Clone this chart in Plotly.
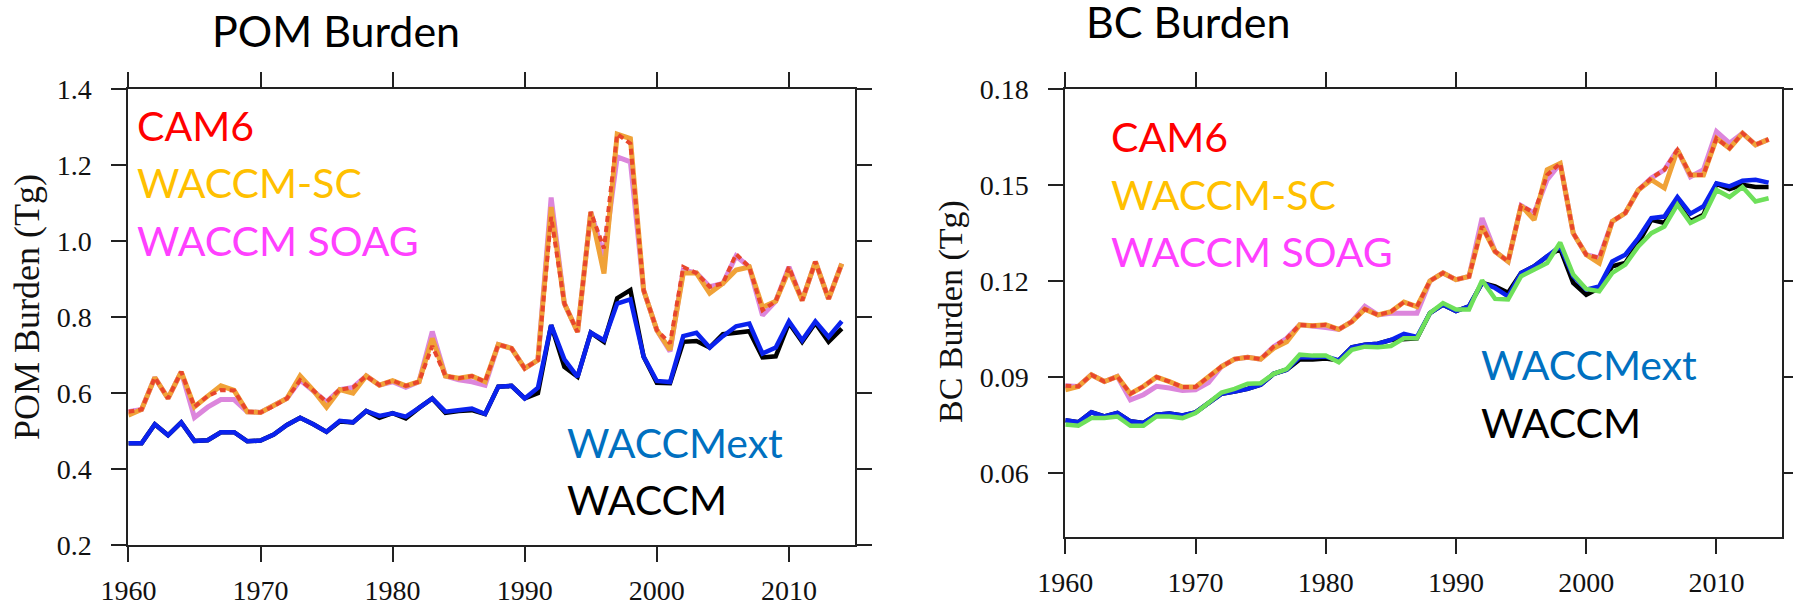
import plotly.graph_objects as go

W, H = 1793, 600
years = list(range(1960, 2015))

# ---------------- POM burden (Tg) ----------------
pom_cam6 = [0.551, 0.557, 0.641, 0.586, 0.656, 0.564, 0.592, 0.608, 0.607, 0.551,
            0.549, 0.566, 0.586, 0.634, 0.607, 0.577, 0.609, 0.615, 0.645, 0.621,
            0.633, 0.619, 0.630, 0.724, 0.645, 0.639, 0.645, 0.630, 0.728, 0.718,
            0.665, 0.687, 1.064, 0.836, 0.761, 1.077, 0.981, 1.282, 1.257, 0.871,
            0.766, 0.731, 0.932, 0.916, 0.880, 0.889, 0.966, 0.932, 0.818, 0.842,
            0.932, 0.844, 0.946, 0.848, 0.941]
pom_sc = [0.542, 0.557, 0.641, 0.586, 0.656, 0.564, 0.592, 0.619, 0.607, 0.551,
          0.549, 0.566, 0.586, 0.645, 0.607, 0.563, 0.609, 0.600, 0.645, 0.621,
          0.633, 0.619, 0.630, 0.744, 0.645, 0.639, 0.645, 0.630, 0.728, 0.718,
          0.665, 0.687, 1.090, 0.836, 0.761, 1.077, 0.915, 1.282, 1.270, 0.871,
          0.766, 0.714, 0.916, 0.916, 0.863, 0.889, 0.924, 0.932, 0.826, 0.842,
          0.924, 0.844, 0.946, 0.848, 0.941]
pom_soag = [0.551, 0.557, 0.641, 0.586, 0.656, 0.536, 0.563, 0.583, 0.583, 0.551,
            0.549, 0.566, 0.586, 0.634, 0.607, 0.577, 0.609, 0.615, 0.645, 0.621,
            0.630, 0.615, 0.630, 0.762, 0.645, 0.635, 0.630, 0.621, 0.728, 0.718,
            0.665, 0.687, 1.115, 0.836, 0.761, 1.077, 0.961, 1.222, 1.209, 0.871,
            0.766, 0.710, 0.924, 0.916, 0.880, 0.889, 0.961, 0.932, 0.805, 0.842,
            0.932, 0.844, 0.946, 0.848, 0.941]
pom_ext = [0.468, 0.468, 0.518, 0.489, 0.523, 0.474, 0.476, 0.497, 0.497, 0.473,
           0.475, 0.491, 0.516, 0.535, 0.518, 0.498, 0.527, 0.523, 0.553, 0.540,
           0.547, 0.538, 0.561, 0.586, 0.551, 0.555, 0.559, 0.545, 0.617, 0.619,
           0.586, 0.614, 0.779, 0.689, 0.643, 0.759, 0.739, 0.836, 0.847, 0.696,
           0.632, 0.629, 0.750, 0.759, 0.720, 0.750, 0.776, 0.783, 0.704, 0.720,
           0.789, 0.739, 0.789, 0.748, 0.789]
pom_waccm = [0.468, 0.468, 0.518, 0.489, 0.523, 0.474, 0.476, 0.497, 0.497, 0.473,
             0.475, 0.491, 0.516, 0.535, 0.518, 0.498, 0.525, 0.523, 0.553, 0.535,
             0.547, 0.533, 0.561, 0.586, 0.548, 0.553, 0.555, 0.545, 0.617, 0.619,
             0.586, 0.600, 0.779, 0.669, 0.643, 0.759, 0.735, 0.850, 0.871, 0.696,
             0.627, 0.626, 0.735, 0.737, 0.720, 0.755, 0.759, 0.763, 0.694, 0.697,
             0.785, 0.735, 0.785, 0.735, 0.770]

# ---------------- BC burden (Tg) ----------------
bc_cam6 = [0.0873, 0.0871, 0.0907, 0.0886, 0.0902, 0.0848, 0.0871, 0.0900, 0.0886, 0.0869,
           0.0869, 0.0902, 0.0933, 0.0956, 0.0962, 0.0956, 0.0995, 0.1021, 0.1063, 0.1060,
           0.1063, 0.1049, 0.1073, 0.1112, 0.1094, 0.1104, 0.1134, 0.1120, 0.1200, 0.1225,
           0.1204, 0.1214, 0.1370, 0.1292, 0.1261, 0.1435, 0.1412, 0.1531, 0.1567, 0.1349,
           0.1282, 0.1272, 0.1386, 0.1412, 0.1484, 0.1521, 0.1547, 0.1609, 0.1531, 0.1531,
           0.1645, 0.1614, 0.1661, 0.1625, 0.1642]
bc_sc = [0.0860, 0.0871, 0.0907, 0.0886, 0.0902, 0.0848, 0.0871, 0.0900, 0.0886, 0.0869,
         0.0869, 0.0902, 0.0933, 0.0956, 0.0962, 0.0956, 0.0990, 0.1010, 0.1063, 0.1060,
         0.1063, 0.1049, 0.1073, 0.1112, 0.1094, 0.1104, 0.1134, 0.1120, 0.1200, 0.1225,
         0.1204, 0.1214, 0.1370, 0.1292, 0.1261, 0.1435, 0.1391, 0.1547, 0.1567, 0.1349,
         0.1282, 0.1256, 0.1386, 0.1412, 0.1484, 0.1516, 0.1490, 0.1609, 0.1531, 0.1531,
         0.1645, 0.1614, 0.1661, 0.1625, 0.1642]
bc_soag = [0.0873, 0.0871, 0.0907, 0.0886, 0.0902, 0.0829, 0.0845, 0.0871, 0.0866, 0.0858,
           0.0860, 0.0883, 0.0933, 0.0956, 0.0962, 0.0956, 0.0995, 0.1021, 0.1063, 0.1060,
           0.1055, 0.1049, 0.1073, 0.1121, 0.1094, 0.1099, 0.1099, 0.1099, 0.1200, 0.1225,
           0.1204, 0.1214, 0.1396, 0.1292, 0.1261, 0.1435, 0.1412, 0.1516, 0.1567, 0.1349,
           0.1282, 0.1272, 0.1386, 0.1412, 0.1484, 0.1521, 0.1547, 0.1609, 0.1525, 0.1547,
           0.1666, 0.1630, 0.1661, 0.1625, 0.1642]
bc_ext = [0.0765, 0.0759, 0.0790, 0.0777, 0.0788, 0.0762, 0.0757, 0.0783, 0.0786, 0.0780,
          0.0790, 0.0819, 0.0848, 0.0855, 0.0863, 0.0876, 0.0910, 0.0923, 0.0962, 0.0962,
          0.0964, 0.0952, 0.0993, 0.1001, 0.1004, 0.1016, 0.1035, 0.1025, 0.1100, 0.1126,
          0.1106, 0.1121, 0.1194, 0.1178, 0.1152, 0.1225, 0.1246, 0.1277, 0.1308, 0.1215,
          0.1173, 0.1183, 0.1261, 0.1282, 0.1334, 0.1396, 0.1401, 0.1462, 0.1410, 0.1433,
          0.1505, 0.1495, 0.1513, 0.1516, 0.1507]
bc_waccm = [0.0765, 0.0759, 0.0790, 0.0777, 0.0788, 0.0762, 0.0757, 0.0783, 0.0786, 0.0780,
            0.0790, 0.0819, 0.0848, 0.0855, 0.0863, 0.0876, 0.0910, 0.0923, 0.0955, 0.0955,
            0.0958, 0.0952, 0.0993, 0.1001, 0.1004, 0.1016, 0.1020, 0.1021, 0.1100, 0.1126,
            0.1106, 0.1121, 0.1194, 0.1183, 0.1163, 0.1225, 0.1246, 0.1277, 0.1300, 0.1194,
            0.1157, 0.1178, 0.1246, 0.1256, 0.1318, 0.1391, 0.1381, 0.1443, 0.1386, 0.1407,
            0.1503, 0.1487, 0.1500, 0.1493, 0.1493]
bc_green = [0.0752, 0.0748, 0.0772, 0.0772, 0.0777, 0.0748, 0.0748, 0.0777, 0.0777, 0.0772,
            0.0788, 0.0819, 0.0852, 0.0863, 0.0879, 0.0881, 0.0910, 0.0925, 0.0970, 0.0967,
            0.0967, 0.0946, 0.0985, 0.0995, 0.0993, 0.0997, 0.1021, 0.1021, 0.1100, 0.1131,
            0.1111, 0.1111, 0.1202, 0.1144, 0.1142, 0.1215, 0.1235, 0.1256, 0.1320, 0.1220,
            0.1175, 0.1168, 0.1225, 0.1251, 0.1308, 0.1349, 0.1370, 0.1438, 0.1381, 0.1401,
            0.1484, 0.1462, 0.1493, 0.1448, 0.1458]

pom_ticks = [0.2, 0.4, 0.6, 0.8, 1.0, 1.2, 1.4]
pom_ticklabels = ["0.2", "0.4", "0.6", "0.8", "1.0", "1.2", "1.4"]
bc_ticks = [0.06, 0.09, 0.12, 0.15, 0.18]
bc_ticklabels = ["0.06", "0.09", "0.12", "0.15", "0.18"]
year_ticks = [1960, 1970, 1980, 1990, 2000, 2010]

C_RED = "#E8462C"
C_ORANGE = "#F0A238"
C_VIOLET = "#DC86DC"
C_BLUE = "#0A22EE"
C_BLACK = "#000000"
C_GREEN = "#6EE05A"

fig = go.Figure()

def add(x, y, color, width, xa, ya, dash=None):
    fig.add_trace(go.Scatter(x=x, y=y, mode="lines", xaxis=xa, yaxis=ya,
                             line=dict(color=color, width=width, dash=dash),
                             showlegend=False, hoverinfo="skip"))

# POM panel
add(years, pom_waccm, C_BLACK, 4.5, "x", "y")
add(years, pom_ext, C_BLUE, 4.5, "x", "y")
add(years, pom_soag, C_VIOLET, 5, "x", "y")
add(years, pom_sc, C_ORANGE, 5, "x", "y")
add(years, pom_cam6, C_RED, 4, "x", "y", dash="6px,4px")
# BC panel
add(years, bc_waccm, C_BLACK, 4.5, "x2", "y2")
add(years, bc_ext, C_BLUE, 4.5, "x2", "y2")
add(years, bc_green, C_GREEN, 4.5, "x2", "y2")
add(years, bc_soag, C_VIOLET, 5, "x2", "y2")
add(years, bc_sc, C_ORANGE, 5, "x2", "y2")
add(years, bc_cam6, C_RED, 4, "x2", "y2", dash="6px,4px")

axis_common = dict(showline=True, linecolor="#222", linewidth=2, mirror="allticks",
                   ticks="outside", ticklen=15, tickwidth=2, tickcolor="#222",
                   showgrid=False, zeroline=False, automargin=False,
                   tickfont=dict(family="Liberation Serif", size=28, color="#111"))

fig.update_layout(
    width=W, height=H,
    margin=dict(l=0, r=0, t=0, b=0, autoexpand=False),
    paper_bgcolor="white", plot_bgcolor="white",
    xaxis=dict(domain=[128.4 / W, 855 / W], range=[1960, 2015], anchor="y",
               tickvals=year_ticks, ticklabelstandoff=4, **axis_common),
    yaxis=dict(domain=[1 - 545 / H, 1 - 89.3 / H], range=[0.2, 1.4], anchor="x",
               tickvals=pom_ticks, ticktext=pom_ticklabels, ticklabelstandoff=14,
               **axis_common),
    xaxis2=dict(domain=[1065.3 / W, 1781.6 / W], range=[1960, 2015], anchor="y2",
                tickvals=year_ticks, ticklabelstandoff=4, **axis_common),
    yaxis2=dict(domain=[1 - 537.3 / H, 1 - 88.7 / H], range=[0.04, 0.18], anchor="x2",
                tickvals=bc_ticks, ticktext=bc_ticklabels, ticklabelstandoff=14,
                **axis_common),
)

SANS = "Lato"
def txt(s, px, py, color, size=41, family=SANS, xanchor="left", angle=0):
    fig.add_annotation(text=s, x=px / W, y=1 - py / H, xref="paper", yref="paper",
                       xanchor=xanchor, yanchor="middle", showarrow=False,
                       textangle=angle, font=dict(family=family, size=size, color=color))

# titles
txt("POM Burden", 335.5, 31, "#000", size=43, xanchor="center")
txt("BC Burden", 1187.5, 22, "#000", size=43, xanchor="center")
# y-axis titles
txt("POM Burden (Tg)", 27, 307, "#111", size=36, family="Liberation Serif",
    xanchor="center", angle=-90)
txt("BC Burden (Tg)", 951, 312, "#111", size=34, family="Liberation Serif",
    xanchor="center", angle=-90)
# in-plot labels, POM
txt("CAM6", 135, 126, "#FF0000")
txt("WACCM-SC", 135, 183, "#FFC000")
txt("WACCM SOAG", 135, 241, "#FF40FF")
txt("WACCMext", 565, 442, "#0070C0")
txt("WACCM", 565, 499, "#000000")
# in-plot labels, BC
txt("CAM6", 1109, 137, "#FF0000")
txt("WACCM-SC", 1109, 195, "#FFC000")
txt("WACCM SOAG", 1109, 251, "#FF40FF")
txt("WACCMext", 1479, 364, "#0070C0")
txt("WACCM", 1479, 422, "#000000")

# the page's default 8px body margin would shift the 1793x600 figure; remove it
fig.write_html("out.html", config={"displayModeBar": False},
               post_script="document.body.style.margin='0';")
